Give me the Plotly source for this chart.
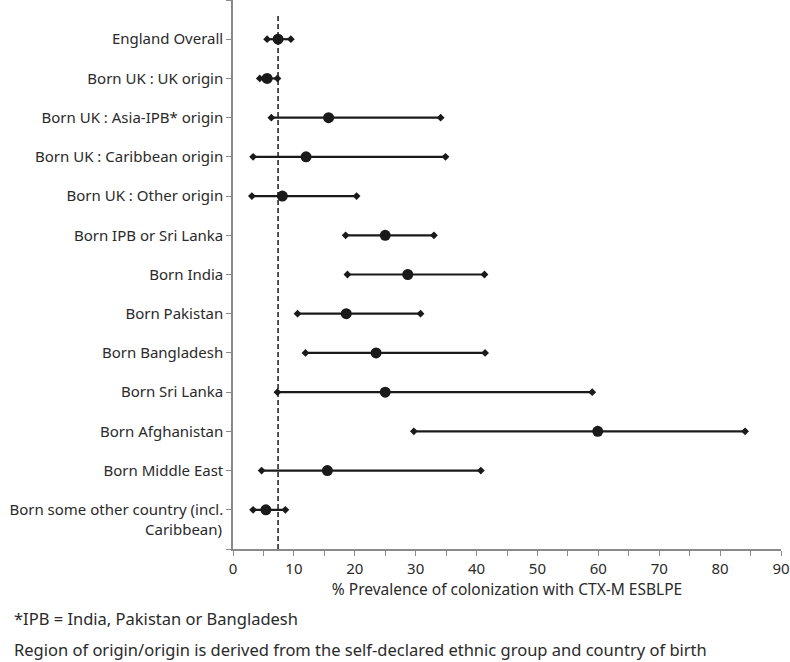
import plotly.graph_objects as go

categories = [
    "England Overall",
    "Born UK : UK origin",
    "Born UK : Asia-IPB* origin",
    "Born UK : Caribbean origin",
    "Born UK : Other origin",
    "Born IPB or Sri Lanka",
    "Born India",
    "Born Pakistan",
    "Born Bangladesh",
    "Born Sri Lanka",
    "Born Afghanistan",
    "Born Middle East",
    "Born some other country (incl.",
]
last_label_second_line = "Caribbean)"
prevalence = [7.4, 5.6, 15.7, 12.0, 8.1, 25.0, 28.7, 18.6, 23.5, 25.0, 59.9, 15.5, 5.4]
ci_low = [5.6, 4.4, 6.3, 3.3, 3.1, 18.5, 18.8, 10.6, 11.9, 7.3, 29.7, 4.7, 3.3]
ci_high = [9.5, 7.3, 34.1, 34.9, 20.3, 33.0, 41.3, 30.8, 41.4, 59.0, 84.1, 40.7, 8.6]
reference_line = 7.4
x_ticks = list(range(0, 95, 5))
x_ticklabels = [str(v) if v % 10 == 0 else "" for v in x_ticks]
x_title = "% Prevalence of colonization with CTX-M ESBLPE"
footnote_1 = "*IPB = India, Pakistan or Bangladesh"
footnote_2 = "Region of origin/origin is derived from the self-declared ethnic group and country of birth"

positions = list(range(1, len(categories) + 1))
FONT = "Noto Sans"
INK = "#1a1a1a"
TEXT = "#2a2a2a"
AXIS = "#8a8a8a"
FS = 15

line_x, line_y = [], []
for lo, hi, p in zip(ci_low, ci_high, positions):
    line_x += [lo, hi, None]
    line_y += [p, p, None]

fig = go.Figure()
fig.add_trace(go.Scatter(
    x=line_x, y=line_y, mode="lines+markers",
    line=dict(color=INK, width=2.2),
    marker=dict(symbol="diamond", size=6, color=INK),
    hoverinfo="skip", showlegend=False,
))
fig.add_trace(go.Scatter(
    x=prevalence, y=positions, mode="markers",
    marker=dict(symbol="circle", size=11, color=INK),
    showlegend=False,
))

fig.add_shape(type="line", xref="x", yref="paper",
              x0=reference_line, x1=reference_line, y0=0, y1=0.975,
              line=dict(color=INK, width=1.5, dash="5px,3px"))

fig.add_annotation(text=last_label_second_line, xref="paper", yref="y",
                   x=0, y=positions[-1], xanchor="right", yanchor="middle",
                   xshift=-9, yshift=-19, showarrow=False,
                   font=dict(family=FONT, size=FS, color=TEXT))

fig.add_annotation(text=footnote_1, xref="paper", yref="paper",
                   x=-221/548, y=-69/549, xanchor="left", yanchor="middle",
                   showarrow=False, font=dict(family=FONT, size=16.5, color=TEXT))
fig.add_annotation(text=footnote_2, xref="paper", yref="paper",
                   x=-221/548, y=-100/549, xanchor="left", yanchor="middle",
                   showarrow=False, font=dict(family=FONT, size=16.5, color=TEXT))

fig.update_xaxes(
    range=[0, 90], tickmode="array", tickvals=x_ticks, ticktext=x_ticklabels,
    ticks="outside", ticklen=5, tickcolor=AXIS, tickwidth=1,
    showline=True, linecolor=AXIS, linewidth=1.5, showgrid=False, zeroline=False,
    tickfont=dict(family=FONT, size=FS, color=TEXT),
    title=dict(text=x_title, font=dict(family=FONT, size=15.5, color=TEXT), standoff=5),
)
fig.update_yaxes(
    range=[len(categories) + 1, 0], tickmode="array",
    tickvals=[0] + positions + [len(categories) + 1],
    ticktext=[""] + categories + [""],
    ticks="outside", ticklen=5, tickcolor=AXIS, tickwidth=1,
    showline=True, linecolor=AXIS, linewidth=1.5, showgrid=False, zeroline=False,
    tickfont=dict(family=FONT, size=FS, color=TEXT),
)
fig.update_layout(
    width=790, height=662,
    margin=dict(l=233, r=9, t=0, b=113),
    plot_bgcolor="white", paper_bgcolor="white",
    font=dict(family=FONT, size=FS, color=TEXT),
)
fig.write_html("out.html", config={"displayModeBar": False},
               post_script="document.body.style.margin='0';")
